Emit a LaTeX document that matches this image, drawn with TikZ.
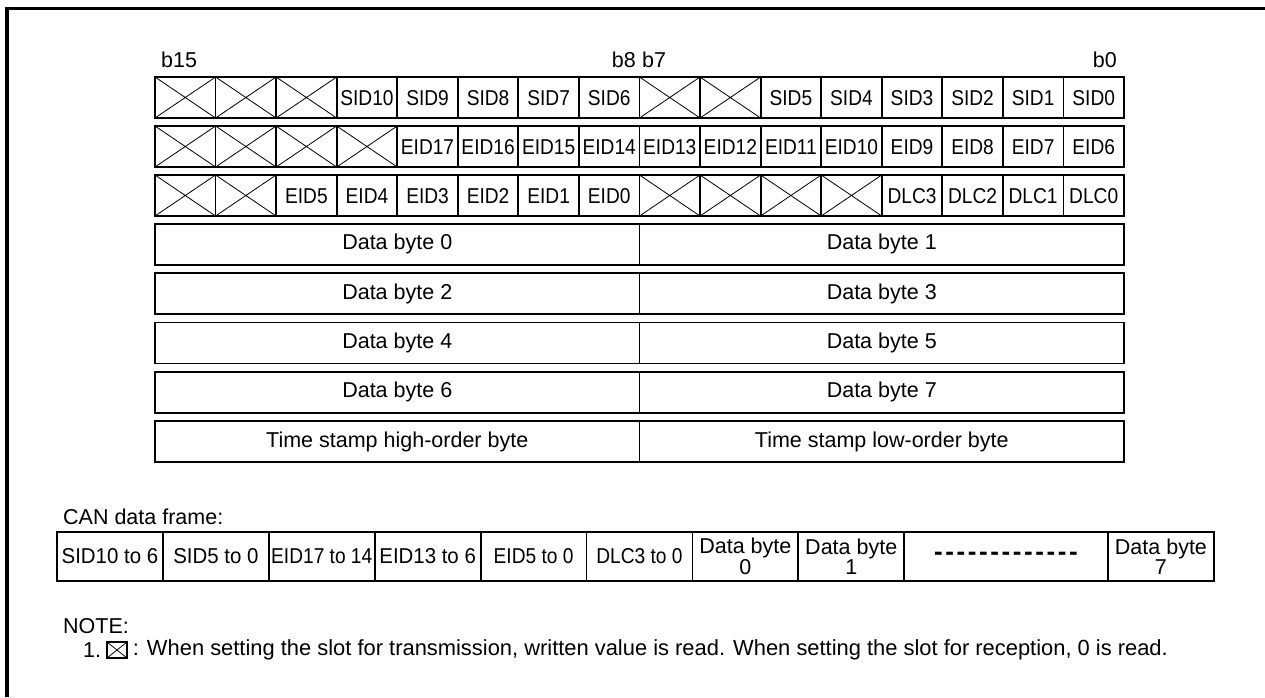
\documentclass[tikz,border=0pt]{standalone}
\usepackage{fontspec}
\setmainfont{Liberation Sans}
\newfontfamily\cn[FakeStretch=0.89]{Liberation Sans}
\newfontfamily\cm[FakeStretch=0.95]{Liberation Sans}
\usetikzlibrary{positioning}

\begin{document}
\begin{tikzpicture}[x=1pt,y=-1pt,
  txt/.style={font=\fontsize{21.5}{23}\selectfont,inner sep=0pt},
  cell/.style={draw,line width=1.8pt,minimum width=60.56pt,minimum height=41pt,inner sep=0pt,outer sep=0pt,anchor=north west,text height=15.5pt,text depth=0pt,font=\cn\fontsize{21.5}{23}\selectfont},
  xcell/.style={cell,path picture={\draw[line width=0.8pt] (path picture bounding box.north west)--(path picture bounding box.south east) (path picture bounding box.south west)--(path picture bounding box.north east);}},
  halfrow/.style={cell,minimum width=484.5pt,text depth=4.5pt,font=\fontsize{21.5}{23}\selectfont},
  fcell/.style={draw,line width=1.8pt,minimum width=105.9pt,minimum height=49pt,inner sep=0pt,outer sep=0pt,anchor=north west,align=center,font=\fontsize{21.5}{18}\selectfont}]
\useasboundingbox (0,0) rectangle (1265,697);
\draw[line width=3.5pt] (7,697) -- (7,8.7) -- (1265,8.7);

% bit numbers
\node[txt,anchor=west] (b15) at (161,60) {b15};
\node[txt,anchor=east] (b8) at (636,60) {b8};
\node[txt,anchor=west] (b7) at (642,60) {b7};
\node[txt,anchor=east] (b0) at (1117,60) {b0};

% register words
\foreach \st/\lbl [count=\i from 0] in {xcell/{},xcell/{},xcell/{},cell/SID10,cell/SID9,cell/SID8,cell/SID7,cell/SID6,xcell/{},xcell/{},cell/SID5,cell/SID4,cell/SID3,cell/SID2,cell/SID1,cell/SID0}
  \node[\st] (sid\i) at ({155+60.56*\i},77) {\lbl};
\foreach \st/\lbl [count=\i from 0] in {xcell/{},xcell/{},xcell/{},xcell/{},cell/EID17,cell/EID16,cell/EID15,cell/EID14,cell/EID13,cell/EID12,cell/EID11,cell/EID10,cell/EID9,cell/EID8,cell/EID7,cell/EID6}
  \node[\st] (eid\i) at ({155+60.56*\i},126) {\lbl};
\foreach \st/\lbl [count=\i from 0] in {xcell/{},xcell/{},cell/EID5,cell/EID4,cell/EID3,cell/EID2,cell/EID1,cell/EID0,xcell/{},xcell/{},xcell/{},xcell/{},cell/DLC3,cell/DLC2,cell/DLC1,cell/DLC0}
  \node[\st] (dlc\i) at ({155+60.56*\i},175) {\lbl};
\foreach \lo/\hi [count=\r from 3] in {0/1,2/3,4/5,6/7}{
  \node[halfrow] (data\lo) at (155,{76+49.3*\r}) {Data byte \lo};
  \node[halfrow] (data\hi) at (639.5,{76+49.3*\r}) {Data byte \hi};
}
\node[halfrow] (tsh) at (155,421) {Time stamp high-order byte};
\node[halfrow] (tsl) at (639.5,421) {Time stamp low-order byte};

% CAN data frame
\node[txt,anchor=west] (canlbl) at (63,517) {CAN data frame:};
\foreach \lbl [count=\i from 0] in {{\cm SID10 to 6},{\cm SID5 to 0},{\cn EID17 to 14},{\cm EID13 to 6},{\cn EID5 to 0},{\cn DLC3 to 0},Data byte\\0,Data byte\\1}
  \node[fcell] (fr\i) at ({57+105.9*\i},532) {\lbl};
\node[fcell,minimum width=204pt] (frdots) at (904,532)
  {\fontsize{26}{26}\bfseries\foreach \k in {1,...,13}{-\hspace{2.6pt}}\unskip};
\node[fcell] (fr7) at (1108,532) {Data byte\\7};

% note
\node[txt,anchor=west] (note) at (63,626) {NOTE:};
\node[txt,anchor=west] (num) at (83,650) {1.};
\node[draw,line width=1.2pt,minimum width=20pt,minimum height=16pt,inner sep=0pt,
  path picture={\draw[line width=0.8pt] (path picture bounding box.north west)--(path picture bounding box.south east) (path picture bounding box.south west)--(path picture bounding box.north east);}] (icon) at (117,650) {};
\node[txt,right=5pt of icon,font=\fontsize{21.9}{23}\selectfont] (notetxt) {: When setting the slot for transmission, written value is read. When setting the slot for reception, 0 is read.};
\end{tikzpicture}
\end{document}
